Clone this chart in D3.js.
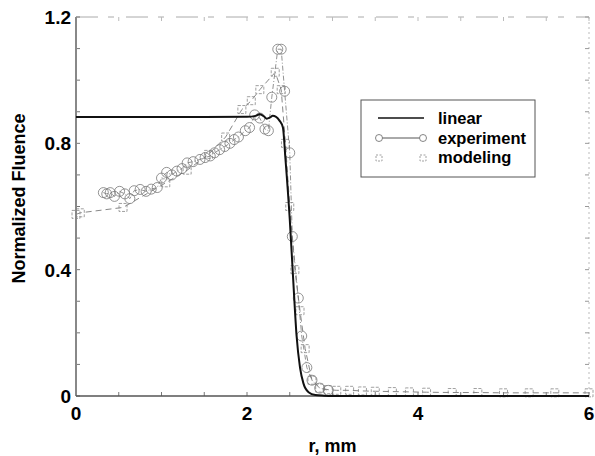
<!DOCTYPE html>
<html>
<head>
<meta charset="utf-8">
<script src="https://cdn.jsdelivr.net/npm/d3@7"></script>
<style>
  body { margin: 0; background: #fff; }
  svg text { font-family: "Liberation Sans", Arial, sans-serif; font-weight: bold; }
</style>
</head>
<body>
<div id="chart"></div>
<script>
// r in mm, fluence normalized
const linearR = [0, 0.5, 1.0, 1.5, 2.0, 2.1, 2.15, 2.2, 2.23, 2.27, 2.3, 2.34, 2.38, 2.42, 2.45, 2.5, 2.54, 2.58, 2.62, 2.66, 2.72, 2.8, 2.9, 3.0, 4.0, 5.0, 6.0];
const linearV = [0.883, 0.883, 0.883, 0.883, 0.884, 0.887, 0.892, 0.885, 0.878, 0.882, 0.887, 0.884, 0.872, 0.85, 0.75, 0.56, 0.37, 0.19, 0.09, 0.04, 0.012, 0.003, 0.001, 0, 0, 0, 0];

const expR = [0.32, 0.36, 0.40, 0.45, 0.51, 0.57, 0.63, 0.68, 0.75, 0.82, 0.88, 0.95, 1.0, 1.06, 1.12, 1.18, 1.24, 1.30, 1.37, 1.45, 1.51, 1.57, 1.62, 1.68, 1.74, 1.80, 1.85, 1.90, 1.98, 2.03, 2.09, 2.15, 2.21, 2.25, 2.29, 2.36, 2.40, 2.44, 2.50, 2.53, 2.60, 2.64, 2.70, 2.76, 2.85, 2.95];
const expV = [0.644, 0.640, 0.644, 0.632, 0.648, 0.640, 0.625, 0.650, 0.654, 0.648, 0.655, 0.660, 0.690, 0.708, 0.700, 0.712, 0.720, 0.738, 0.742, 0.749, 0.755, 0.760, 0.770, 0.780, 0.790, 0.800, 0.812, 0.820, 0.840, 0.850, 0.890, 0.880, 0.845, 0.840, 0.946, 1.098, 1.098, 0.965, 0.770, 0.505, 0.310, 0.190, 0.090, 0.050, 0.025, 0.018];

const modR = [0.0, 0.05, 0.55, 1.05, 1.3, 1.55, 1.75, 1.94, 2.05, 2.15, 2.33, 2.40, 2.45, 2.5, 2.56, 2.62, 2.68, 2.76, 2.85, 2.95, 3.05, 3.2, 3.35, 3.5, 3.7, 3.9, 4.1, 4.4, 4.7, 5.0, 5.3, 5.6, 6.0];
const modV = [0.575, 0.58, 0.597, 0.675, 0.715, 0.765, 0.82, 0.907, 0.935, 0.97, 1.025, 0.97, 0.80, 0.60, 0.40, 0.27, 0.15, 0.05, 0.025, 0.02, 0.018, 0.018, 0.016, 0.015, 0.014, 0.013, 0.012, 0.011, 0.011, 0.01, 0.01, 0.01, 0.01];

const xMajor = [0, 2, 4, 6];
const yMajor = [0, 0.4, 0.8, 1.2];
const yLabels = ["0", "0.4", "0.8", "1.2"];

const width = 595, height = 456;
const margin = {top: 17, right: 6, bottom: 60, left: 76};
const svg = d3.select("#chart").append("svg")
  .attr("width", width).attr("height", height);

const x = d3.scaleLinear().domain([0, 6]).range([margin.left, width - margin.right]);
const y = d3.scaleLinear().domain([0, 1.2]).range([height - margin.bottom, margin.top]);

const x0 = x(0), x1 = x(6), y0 = y(0), y1 = y(1.2);

// frame: top and right faint, broken
svg.append("line").attr("x1", x0).attr("x2", x1).attr("y1", y1).attr("y2", y1)
  .attr("stroke", "#aaa").attr("stroke-width", 1).attr("stroke-dasharray", "22,10,6,12");
svg.append("line").attr("x1", x1).attr("x2", x1).attr("y1", y1).attr("y2", y0)
  .attr("stroke", "#bbb").attr("stroke-width", 1).attr("stroke-dasharray", "2,3");

// ticks (inward, all sides)
const xMinor = d3.range(0, 6.01, 0.5);
const yMinor = d3.range(0, 1.201, 0.1);
const tk = svg.append("g").attr("stroke", "#777").attr("stroke-width", 1);
xMinor.forEach(v => {
  tk.append("line").attr("x1", x(v)).attr("x2", x(v)).attr("y1", y0).attr("y2", y0 - 4);
  tk.append("line").attr("x1", x(v)).attr("x2", x(v)).attr("y1", y1).attr("y2", y1 + 4).attr("stroke", "#bbb");
});
yMinor.forEach(v => {
  tk.append("line").attr("x1", x0).attr("x2", x0 + 4).attr("y1", y(v)).attr("y2", y(v));
  tk.append("line").attr("x1", x1).attr("x2", x1 - 4).attr("y1", y(v)).attr("y2", y(v)).attr("stroke", "#999");
});

// left & bottom axes
svg.append("line").attr("x1", x0).attr("x2", x0).attr("y1", y1).attr("y2", y0)
  .attr("stroke", "#888").attr("stroke-width", 2);
svg.append("line").attr("x1", x0).attr("x2", x1).attr("y1", y0).attr("y2", y0)
  .attr("stroke", "#555").attr("stroke-width", 1.5);

// tick labels
svg.selectAll(".xl").data(xMajor).enter().append("text")
  .attr("x", d => x(d)).attr("y", y0 + 24)
  .attr("text-anchor", "middle").attr("font-size", "19px").text(d => d);
svg.selectAll(".yl").data(yMajor).enter().append("text")
  .attr("x", x0 - 5).attr("y", d => y(d) + 7)
  .attr("text-anchor", "end").attr("font-size", "19px").text((d, i) => yLabels[i]);

// axis titles
svg.append("text").attr("x", (x0 + x1) / 2).attr("y", 452)
  .attr("text-anchor", "middle").attr("font-size", "18px").text("r, mm");
svg.append("text").attr("transform", `translate(25,${(y0 + y1) / 2 - 8}) rotate(-90)`)
  .attr("text-anchor", "middle").attr("font-size", "18px").text("Normalized Fluence");

const line = d3.line().x(d => x(d[0])).y(d => y(d[1]));

// modeling
const modData = modR.map((r, i) => [r, modV[i]]);
svg.append("path").datum(modData).attr("d", line)
  .attr("fill", "none").attr("stroke", "#888").attr("stroke-width", 1).attr("stroke-dasharray", "6,4");
svg.selectAll(".sq").data(modData).enter().append("rect")
  .attr("x", d => x(d[0]) - 4).attr("y", d => y(d[1]) - 4)
  .attr("width", 8).attr("height", 8)
  .attr("fill", "none").attr("stroke", "#888").attr("stroke-width", 0.8).attr("stroke-dasharray", "3,1.5");

// experiment
const expData = expR.map((r, i) => [r, expV[i]]);
svg.append("path").datum(expData).attr("d", line)
  .attr("fill", "none").attr("stroke", "#777").attr("stroke-width", 0.8).attr("stroke-dasharray", "5,2,1,2");
svg.selectAll(".ci").data(expData).enter().append("circle")
  .attr("cx", d => x(d[0])).attr("cy", d => y(d[1])).attr("r", 5)
  .attr("fill", "none").attr("stroke", "#777").attr("stroke-width", 0.8);

// linear
const linData = linearR.map((r, i) => [r, linearV[i]]);
svg.append("path").datum(linData).attr("d", line.curve(d3.curveMonotoneX))
  .attr("fill", "none").attr("stroke", "#111").attr("stroke-width", 2);

// legend
const lg = svg.append("g");
lg.append("rect").attr("x", 361).attr("y", 100).attr("width", 174).attr("height", 77)
  .attr("fill", "#fff").attr("stroke", "#555").attr("stroke-width", 1);
lg.append("line").attr("x1", 378).attr("x2", 424).attr("y1", 118).attr("y2", 118)
  .attr("stroke", "#111").attr("stroke-width", 1.5);
lg.append("line").attr("x1", 379).attr("x2", 423).attr("y1", 138).attr("y2", 138)
  .attr("stroke", "#555").attr("stroke-width", 1);
[379, 423].forEach(cx => lg.append("circle").attr("cx", cx).attr("cy", 138).attr("r", 3.5)
  .attr("fill", "#fff").attr("stroke", "#666").attr("stroke-width", 0.8));
[379, 423].forEach(cx => lg.append("rect").attr("x", cx - 3).attr("y", 155).attr("width", 6).attr("height", 6)
  .attr("fill", "none").attr("stroke", "#888").attr("stroke-width", 0.8).attr("stroke-dasharray", "2,1.5"));
const names = ["linear", "experiment", "modeling"];
names.forEach((n, i) => lg.append("text").attr("x", 438).attr("y", 124 + i * 19.5)
  .attr("font-size", "16.5px").text(n));
</script>
</body>
</html>
